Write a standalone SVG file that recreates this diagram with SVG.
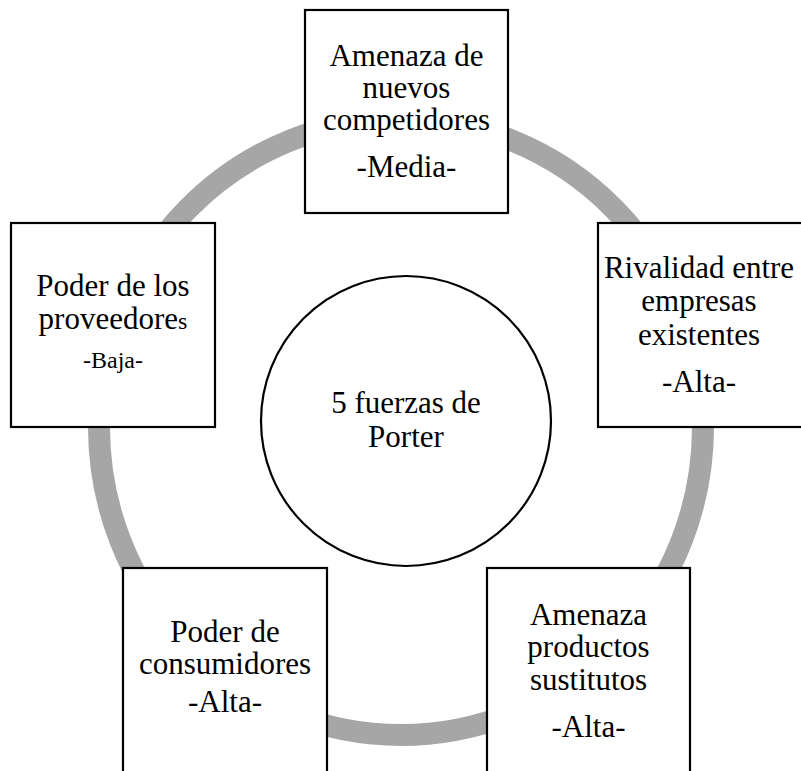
<svg xmlns="http://www.w3.org/2000/svg" width="801" height="771" viewBox="0 0 801 771">
<style>
.box{fill:#ffffff;stroke:#000000;stroke-width:2.2}
.t{font-family:"Liberation Serif","Times New Roman",serif;font-size:31px;fill:#000000;text-anchor:middle}
.s{font-size:24px}
</style>
<rect x="0" y="0" width="801" height="771" fill="#ffffff"/>
<g id="connectors">
<ellipse cx="401" cy="427" rx="302" ry="308" fill="none" stroke="#a6a6a6" stroke-width="22"/>
</g>
<g id="center">
<circle cx="406" cy="421" r="145" fill="#ffffff" stroke="#000000" stroke-width="2.2"/>
<text class="t" x="406" y="413">5 fuerzas de</text>
<text class="t" x="406" y="447">Porter</text>
</g>
<g id="node-nuevos">
<rect class="box" x="305" y="10" width="203" height="203"/>
<text class="t" x="406.5" y="66">Amenaza de</text>
<text class="t" x="406.5" y="98">nuevos</text>
<text class="t" x="406.5" y="130">competidores</text>
<text class="t" x="406.5" y="177">-Media-</text>
</g>
<g id="node-proveedores">
<rect class="box" x="11" y="223" width="204" height="204"/>
<text class="t" x="113" y="296">Poder de los</text>
<text class="t" x="113" y="329">proveedore<tspan class="s">s</tspan></text>
<text class="t s" x="113" y="368">-Baja-</text>
</g>
<g id="node-rivalidad">
<rect class="box" x="598" y="223" width="210" height="204"/>
<text class="t" x="699" y="278">Rivalidad entre</text>
<text class="t" x="699" y="311">empresas</text>
<text class="t" x="699" y="345">existentes</text>
<text class="t" x="699" y="392">-Alta-</text>
</g>
<g id="node-consumidores">
<rect class="box" x="123" y="568" width="204" height="210"/>
<text class="t" x="225" y="642">Poder de</text>
<text class="t" x="225" y="674">consumidores</text>
<text class="t" x="225" y="712">-Alta-</text>
</g>
<g id="node-sustitutos">
<rect class="box" x="487" y="568" width="203" height="210"/>
<text class="t" x="588.5" y="625">Amenaza</text>
<text class="t" x="588.5" y="657">productos</text>
<text class="t" x="588.5" y="690">sustitutos</text>
<text class="t" x="588.5" y="737">-Alta-</text>
</g>
</svg>
